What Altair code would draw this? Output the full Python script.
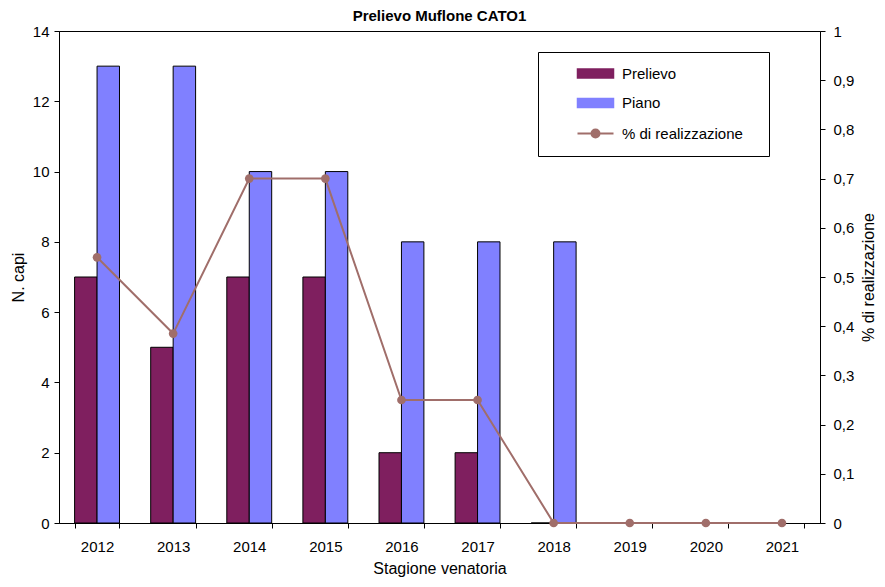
import altair as alt
import pandas as pd

years = ["2012", "2013", "2014", "2015", "2016", "2017", "2018", "2019", "2020", "2021"]
prelievo = [7, 5, 7, 7, 2, 2, 0, None, None, None]
piano = [13, 13, 10, 10, 8, 8, 8, None, None, None]
perc = [0.54, 0.385, 0.70, 0.70, 0.25, 0.25, 0.0, 0.0, 0.0, 0.0]

series = ["Prelievo", "Piano", "% di realizzazione"]
colors = ["#7f1f5f", "#8080ff", "#a06e6a"]

bar_rows = []
for y, a, b in zip(years, prelievo, piano):
    if a is not None:
        bar_rows.append({"anno": y, "serie": "Prelievo", "valore": a})
    if b is not None:
        bar_rows.append({"anno": y, "serie": "Piano", "valore": b})
bars_df = pd.DataFrame(bar_rows)
line_df = pd.DataFrame({"anno": years, "perc": perc, "serie": "% di realizzazione"})

FONT = "Liberation Sans"
LBL = 15
TTL = 16
IS_LINE = "datum.value === '% di realizzazione'"

x_enc = alt.X(
    "anno:N",
    sort=years,
    scale=alt.Scale(domain=years, paddingInner=0.41, paddingOuter=0.205),
    axis=alt.Axis(title="Stagione venatoria", labelAngle=0, tickBand="extent",
                  tickSize=5, labelPadding=11, titlePadding=6),
)

color_enc = alt.Color(
    "serie:N",
    scale=alt.Scale(domain=series, range=colors),
    legend=alt.Legend(
        title="i",
        titleOrient="right",
        titleColor="white",
        titleFontSize=LBL,
        titlePadding=7,
        orient="none",
        legendX=479,
        legendY=21,
        padding=14,
        strokeColor="black",
        fillColor="white",
        symbolSize=400,
        symbolOffset=36,
        labelOffset=19,
        rowPadding=13.5,
        labelFontSize=LBL,
        labelFont=FONT,
        labelColor="black",
        symbolOpacity=1,
        symbolType=alt.ExprRef(expr=IS_LINE + " ? 'M-1.8,0H1.8M0.4,0A0.4,0.4,0,1,1,-0.4,0A0.4,0.4,0,1,1,0.4,0' : 'M-1.8,-0.45H1.8V0.45H-1.8Z'"),
        symbolFillColor=alt.ExprRef(expr="scale('color', datum.value)"),
        symbolStrokeColor=alt.ExprRef(expr=IS_LINE + " ? scale('color', datum.value) : 'black'"),
        symbolStrokeWidth=alt.ExprRef(expr=IS_LINE + " ? 2 : 1.5"),
    ),
)

bars = alt.Chart(bars_df).mark_bar(stroke="black", strokeWidth=1, opacity=1).encode(
    x=x_enc,
    xOffset=alt.XOffset("serie:N", sort=["Prelievo", "Piano"], scale=alt.Scale(paddingInner=0, paddingOuter=0)),
    y=alt.Y("valore:Q", scale=alt.Scale(domain=[0, 14], nice=False),
            axis=alt.Axis(title="N. capi", values=list(range(0, 15, 2)), tickSize=5,
                          labelPadding=5, titlePadding=6, grid=False)),
    color=color_enc,
)

line = alt.Chart(line_df).mark_line(
    strokeWidth=2,
    point=alt.OverlayMarkDef(size=75, filled=True, opacity=1),
).encode(
    x=x_enc,
    y=alt.Y("perc:Q", scale=alt.Scale(domain=[0, 1], nice=False),
            axis=alt.Axis(title="% di realizzazione", orient="right",
                          values=[i / 10 for i in range(11)], tickSize=5,
                          labelPadding=8, titlePadding=23, titleAngle=270, grid=False,
                          labelExpr="replace(format(datum.value, '.1~f'), '.', ',')")),
    color=color_enc,
)

chart = alt.layer(bars, line).resolve_scale(y="independent").properties(
    width=761,
    height=492,
    title=alt.TitleParams("Prelievo Muflone CATO1", fontSize=15, fontWeight="bold",
                          font=FONT, color="black", offset=0, anchor="middle"),
    padding={"left": 51, "top": 23, "right": 56, "bottom": 56},
    autosize=alt.AutoSizeParams(type="none"),
).configure_view(
    stroke="black", strokeWidth=1
).configure_axis(
    domainColor="black", tickColor="black", labelColor="black", titleColor="black",
    labelFont=FONT, titleFont=FONT, labelFontSize=LBL, titleFontSize=TTL,
    titleFontWeight="normal", domainWidth=1, tickWidth=1,
)

chart.save("out.html", embed_options={"renderer": "svg", "actions": False})
